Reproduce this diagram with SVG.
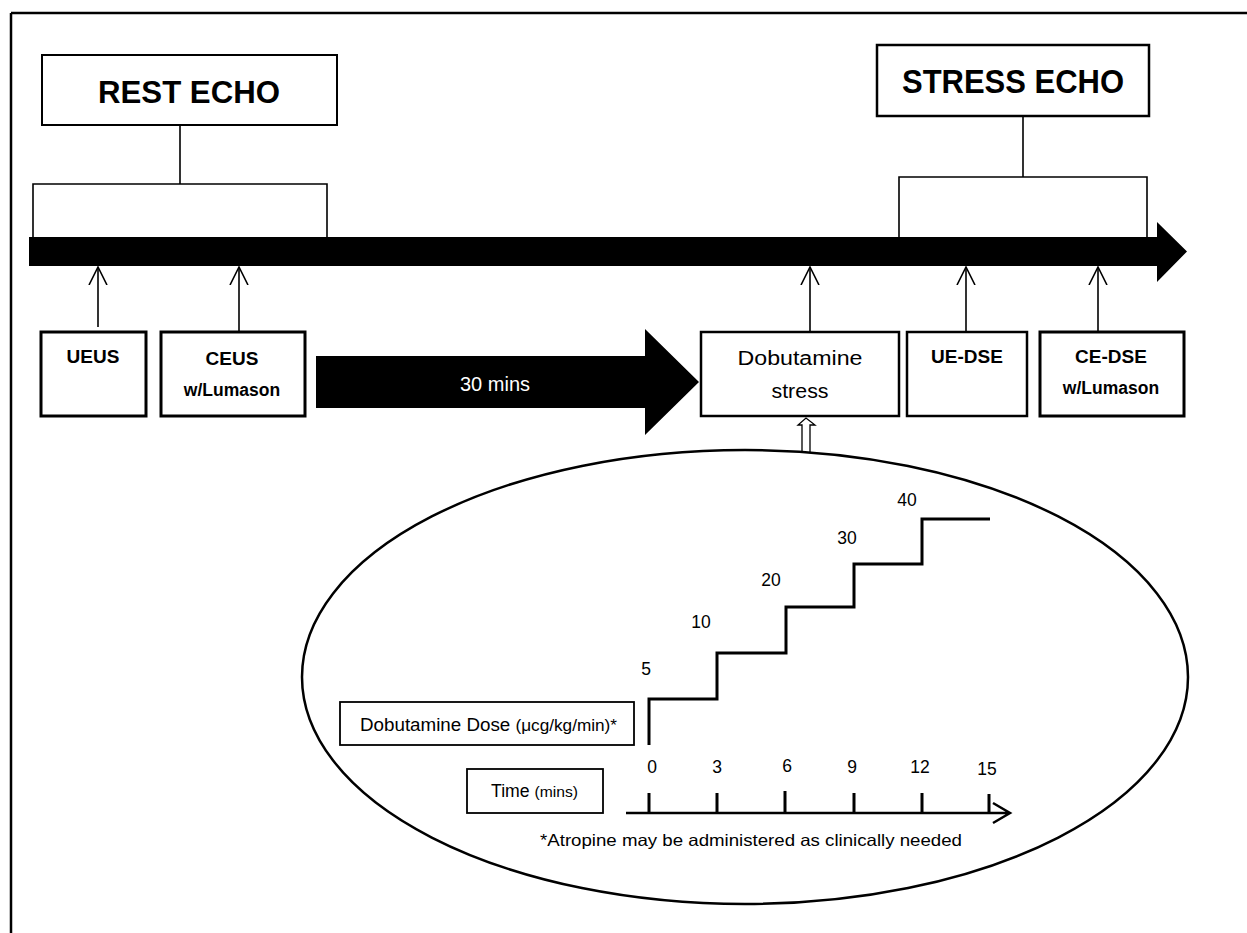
<svg xmlns="http://www.w3.org/2000/svg" width="1247" height="933" viewBox="0 0 1247 933">
<style>
  .box { fill: #fff; stroke: #000; }
  .ln { fill: none; stroke: #000; stroke-width: 1.6; }
  .t { font-family: "Liberation Sans", Arial, sans-serif; fill: #000; }
  .b { font-weight: bold; }
  .step { fill: none; stroke: #000; stroke-width: 3; }
</style>
<defs>
  <marker id="open" viewBox="0 0 20 20" refX="18" refY="10" markerWidth="20" markerHeight="20" markerUnits="userSpaceOnUse" orient="auto">
    <path d="M0,1 L18,10 L0,19" fill="none" stroke="#000" stroke-width="1.6"/>
  </marker>
</defs>
<rect x="0" y="0" width="1247" height="933" fill="#fff"/>
<g id="frame">
  <line x1="11" y1="13" x2="1247" y2="13" stroke="#000" stroke-width="2.5"/>
  <line x1="11" y1="13" x2="11" y2="933" stroke="#000" stroke-width="2.5"/>
</g>
<g id="timeline">
  <path d="M29,237 L1157,237 L1157,222 L1187,251.5 L1157,282 L1157,266 L29,266 Z" fill="#000"/>
</g>
<g id="rest-echo">
  <rect class="box" x="42" y="55" width="295" height="70" stroke-width="2"/>
  <text class="t b" x="189" y="103" font-size="31" text-anchor="middle" textLength="182" lengthAdjust="spacingAndGlyphs">REST ECHO</text>
</g>
<g id="stress-echo">
  <rect class="box" x="877" y="45" width="272" height="71" stroke-width="2.5"/>
  <text class="t b" x="1013" y="93" font-size="33" text-anchor="middle" textLength="222" lengthAdjust="spacingAndGlyphs">STRESS ECHO</text>
</g>
<g id="ueus">
  <rect class="box" x="41" y="332" width="105" height="84" stroke-width="3"/>
  <text class="t b" x="93" y="363" font-size="19" text-anchor="middle">UEUS</text>
</g>
<g id="ceus">
  <rect class="box" x="161" y="332" width="144" height="84" stroke-width="3"/>
  <text class="t b" x="232" y="365" font-size="19" text-anchor="middle">CEUS</text>
  <text class="t b" x="232" y="396" font-size="17.5" text-anchor="middle">w/Lumason</text>
</g>
<g id="wait-arrow">
  <path d="M316,356 L645,356 L645,329 L699,382 L645,435 L645,408 L316,408 Z" fill="#000"/>
  <text class="t" x="495" y="391" font-size="20" text-anchor="middle" style="fill:#fff">30 mins</text>
</g>
<g id="dobutamine-stress">
  <rect class="box" x="701" y="332" width="198" height="84" stroke-width="2.5"/>
  <text class="t" x="800" y="365" font-size="20" text-anchor="middle" textLength="125" lengthAdjust="spacingAndGlyphs">Dobutamine</text>
  <text class="t" x="800" y="398" font-size="20" text-anchor="middle" textLength="57" lengthAdjust="spacingAndGlyphs">stress</text>
</g>
<g id="ue-dse">
  <rect class="box" x="907" y="332" width="120" height="84" stroke-width="2.5"/>
  <text class="t b" x="967" y="363" font-size="19" text-anchor="middle">UE-DSE</text>
</g>
<g id="ce-dse">
  <rect class="box" x="1040" y="332" width="144" height="84" stroke-width="3"/>
  <text class="t b" x="1111" y="363" font-size="19" text-anchor="middle">CE-DSE</text>
  <text class="t b" x="1111" y="394" font-size="17.5" text-anchor="middle">w/Lumason</text>
</g>
<g id="connectors">
  <path class="ln" d="M180,125 L180,184 M33,237 L33,184 L327,184 L327,237"/>
  <path class="ln" d="M1023,116 L1023,177 M899,237 L899,177 L1147,177 L1147,237"/>
  <line class="ln" x1="98" y1="327" x2="98" y2="267" marker-end="url(#open)"/>
  <line class="ln" x1="239" y1="332" x2="239" y2="267" marker-end="url(#open)"/>
  <line class="ln" x1="810" y1="332" x2="810" y2="267" marker-end="url(#open)"/>
  <line class="ln" x1="966" y1="332" x2="966" y2="267" marker-end="url(#open)"/>
  <line class="ln" x1="1098" y1="332" x2="1098" y2="267" marker-end="url(#open)"/>
  <path d="M802,452 L802,425 L798,425 L806,418 L815,425 L810,425 L810,452" fill="#fff" stroke="#000" stroke-width="1.3"/>
</g>
<g id="dose-protocol">
  <ellipse cx="745" cy="677" rx="443" ry="227" fill="none" stroke="#000" stroke-width="2.5"/>
  <rect class="box" x="340" y="702" width="294" height="43" stroke-width="1.8"/>
  <text class="t" x="360" y="731" font-size="17.5" textLength="257" lengthAdjust="spacingAndGlyphs">Dobutamine Dose <tspan font-size="16">(μcg/kg/min)*</tspan></text>
  <rect class="box" x="467" y="769" width="136" height="44" stroke-width="1.8"/>
  <text class="t" x="491" y="797" font-size="17.5" textLength="87" lengthAdjust="spacingAndGlyphs">Time <tspan font-size="15.5">(mins)</tspan></text>
  <path class="step" d="M649,745 L649,699 L717,699 L717,653 L786,653 L786,607 L854,607 L854,564 L922,564 L922,519 L990,519"/>
  <g class="t" font-size="17.5" text-anchor="middle">
    <text x="646" y="675">5</text>
    <text x="701" y="628">10</text>
    <text x="771" y="586">20</text>
    <text x="847" y="544">30</text>
    <text x="907" y="506">40</text>
    <text x="652" y="773">0</text>
    <text x="717" y="773">3</text>
    <text x="787" y="772">6</text>
    <text x="852" y="773">9</text>
    <text x="920" y="773">12</text>
    <text x="987" y="775">15</text>
  </g>
  <path d="M626,813 L1008,813 M993,803 L1010,813 L993,823" fill="none" stroke="#000" stroke-width="2.5"/>
  <path d="M649,793 L649,813 M717,793 L717,813 M785,791 L785,813 M854,793 L854,813 M922,793 L922,813 M989,794 L989,813" stroke="#000" stroke-width="3"/>
  <text class="t" x="540" y="846" font-size="16.5" textLength="422" lengthAdjust="spacingAndGlyphs">*Atropine may be administered as clinically needed</text>
</g>
</svg>
